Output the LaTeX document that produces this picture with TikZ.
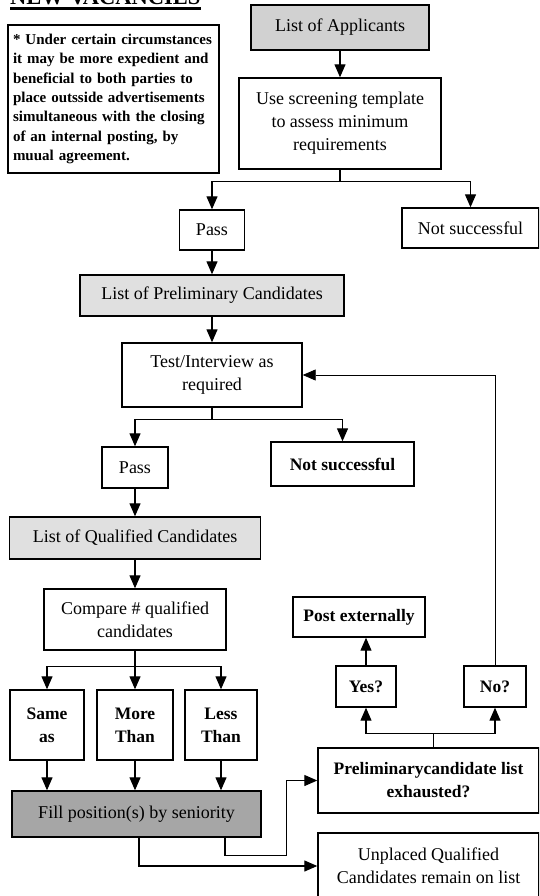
\documentclass[tikz,border=0pt]{standalone}
\usepackage{fontspec}
\setmainfont{Liberation Serif}
\usetikzlibrary{arrows.meta}
\begin{document}
\begin{tikzpicture}[x=1pt,y=-1pt,
  box/.style={draw, line width=1.4pt, inner sep=2pt, align=center, font=\fontsize{18}{23}\selectfont},
  bbox/.style={box, font=\bfseries\fontsize{17.5}{23}\selectfont},
  arr/.style={line width=1.2pt, -{Triangle[length=13pt,width=11pt]}},
  ln/.style={line width=1.2pt}]
\useasboundingbox (0,0) rectangle (539,896);
\clip (0,0) rectangle (539,896);
% title
\node[anchor=base west, inner sep=0pt, font=\bfseries\fontsize{22.5}{23}\selectfont] (title) at (10,5) {NEW VACANCIES};
\draw[line width=2.5pt] ([yshift=-3.5pt]title.base west) -- ([yshift=-3.5pt]title.base east);
% note
\node[box, minimum width=211pt, minimum height=148pt, text width=201pt, align=left,
      font=\bfseries\fontsize{15}{19.3}\selectfont] (note) at (113.5,99)
 {* Under certain circumstances\\it may be more expedient and\\beneficial to both parties to\\place outsside advertisements\\simultaneous with the closing\\of an internal posting, by\\muual agreement.};
% boxes
\node[box, fill=black!18, minimum width=178pt, minimum height=45pt] (apps) at (340,27.5) {List of Applicants};
\node[box, minimum width=202pt, minimum height=91pt] (screen) at (340,123.5) {Use screening template\\to assess minimum\\requirements};
\node[box, minimum width=65pt, minimum height=40pt] (pass1) at (212,230) {Pass};
\node[box, minimum width=137pt, minimum height=40pt] (ns1) at (470.5,228) {Not successful};
\node[box, fill=black!12, minimum width=264pt, minimum height=41pt] (prelim) at (212,295.5) {List of Preliminary Candidates};
\node[box, minimum width=180pt, minimum height=64pt] (test) at (212,375) {Test/Interview as\\required};
\node[box, minimum width=66pt, minimum height=41pt] (pass2) at (135,467.5) {Pass};
\node[bbox, minimum width=143pt, minimum height=44pt] (ns2) at (342.5,464) {Not successful};
\node[box, fill=black!12, minimum width=251pt, minimum height=42pt] (qual) at (135,538) {List of Qualified Candidates};
\node[box, minimum width=182pt, minimum height=61pt] (compare) at (135,619.5) {Compare \# qualified\\candidates};
\node[bbox, minimum width=74pt, minimum height=70pt] (same) at (47,725) {Same\\as};
\node[bbox, minimum width=76pt, minimum height=70pt] (more) at (135,725) {More\\Than};
\node[bbox, minimum width=72pt, minimum height=70pt] (less) at (221,725) {Less\\Than};
\node[box, fill=black!35, minimum width=249pt, minimum height=46pt] (fill) at (136.5,814) {Fill position(s) by seniority};
\node[bbox, minimum width=132pt, minimum height=40pt] (post) at (359,617) {Post externally};
\node[bbox, minimum width=60pt, minimum height=41pt] (yes) at (366,686.5) {Yes?};
\node[bbox, minimum width=62pt, minimum height=41pt] (no) at (495,686.5) {No?};
\node[bbox, minimum width=221pt, minimum height=65pt] (exh) at (428.5,780.5) {Preliminarycandidate list\\exhausted?};
\node[box, minimum width=221pt, minimum height=66pt] (unpl) at (428.5,866) {Unplaced Qualified\\Candidates remain on list};
% connectors
\draw[arr] (apps.south) -- (screen.north);
\draw[ln] (screen.south) -- ++(0,12) coordinate (j1);
\draw[arr] (j1) -| (pass1.north);
\draw[arr] (j1) -| (ns1.north);
\draw[arr] (pass1.south) -- (prelim.north);
\draw[arr] (prelim.south) -- (test.north);
\draw[ln] (test.south) -- ++(0,12) coordinate (j2);
\draw[arr] (j2) -| (pass2.north);
\draw[arr] (j2) -| (ns2.north);
\draw[arr] (pass2.south) -- (qual.north);
\draw[arr] (qual.south) -- (compare.north);
\draw[ln] (compare.south) -- ++(0,16) coordinate (j3);
\draw[arr] (j3) -| (same.north);
\draw[arr] (j3) -- (more.north);
\draw[arr] (j3) -| (less.north);
\draw[arr] (same.south) -- (same.south |- fill.north);
\draw[arr] (more.south) -- (more.south |- fill.north);
\draw[arr] (less.south) -- (less.south |- fill.north);
\draw[arr] ([xshift=2.5pt]fill.south) |- (unpl.west);
\draw[arr] ([xshift=88.5pt]fill.south) -- ++(0,18) -| ([xshift=-31pt]exh.west) -- (exh.west);
\draw[ln] ([xshift=5pt]exh.north) -- ++(0,-14) coordinate (j4);
\draw[arr] (j4) -| (yes.south);
\draw[arr] (j4) -| (no.south);
\draw[arr] (yes.north) -- (yes.north |- post.south);
\draw[arr, line width=0.8pt] (no.north) |- (test.east);
\end{tikzpicture}
\end{document}
